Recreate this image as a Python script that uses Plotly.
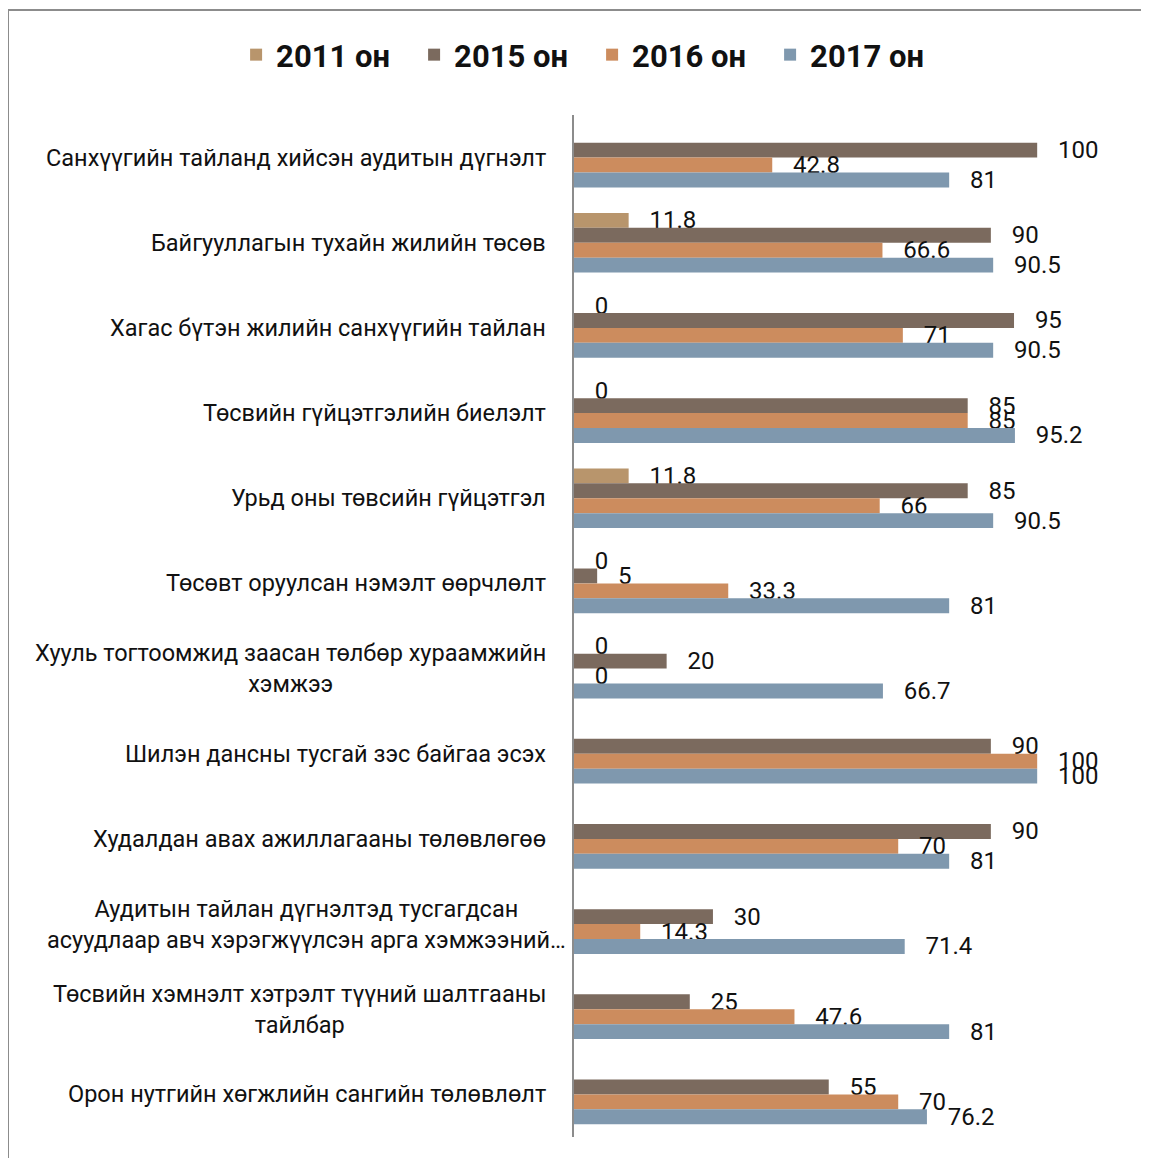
import plotly.graph_objects as go

categories = [
    'Санхүүгийн тайланд хийсэн аудитын дүгнэлт',
    'Байгууллагын тухайн жилийн төсөв',
    'Хагас бүтэн жилийн санхүүгийн тайлан',
    'Төсвийн гүйцэтгэлийн биелэлт',
    'Урьд оны төвсийн гүйцэтгэл',
    'Төсөвт оруулсан нэмэлт өөрчлөлт',
    'Хууль тогтоомжид заасан төлбөр хураамжийн<br>хэмжээ',
    'Шилэн дансны тусгай зэс байгаа эсэх',
    'Худалдан авах ажиллагааны төлөвлөгөө',
    'Аудитын тайлан дүгнэлтэд тусгагдсан<br>асуудлаар авч хэрэгжүүлсэн арга хэмжээний…',
    'Төсвийн хэмнэлт хэтрэлт түүний шалтгааны<br>тайлбар',
    'Орон нутгийн хөгжлийн сангийн төлөвлөлт',
]

series_names = ['2011 он', '2015 он', '2016 он', '2017 он']
vals_2011 = [None, 11.8, 0, 0, 11.8, 0, 0, None, None, None, None, None]
vals_2015 = [100, 90, 95, 85, 85, 5, 20, 90, 90, 30, 25, 55]
vals_2016 = [42.8, 66.6, 71, 85, 66, 33.3, 0, 100, 70, 14.3, 47.6, 70]
vals_2017 = [81, 90.5, 90.5, 95.2, 90.5, 81, 66.7, 100, 81, 71.4, 81, 76.2]

colors = ['#B8956C', '#7B6A5E', '#CC8C5E', '#7F98AE']
FONT = 'Roboto'

fig = go.Figure()
for name, vals, col in zip(series_names, [vals_2011, vals_2015, vals_2016, vals_2017], colors):
    fig.add_trace(go.Bar(
        y=categories,
        x=vals,
        name=name,
        orientation='h',
        marker=dict(color=col, line=dict(width=0)),
        text=[None if v is None else f'{v:g}' for v in vals],
        texttemplate='\u00a0\u00a0\u00a0%{text}',
        textposition='outside',
        constraintext='none',
        cliponaxis=False,
        textfont=dict(family=FONT, size=24, color='#111111'),
        hoverinfo='x+name',
    ))

# category labels as annotations so multi-line labels stay centred
for i, cat in enumerate(categories):
    fig.add_annotation(
        x=0, xref='paper', y=cat, yref='y',
        text=cat, showarrow=False, align='center',
        xanchor='right', yanchor='middle',
        xshift=-6 if i == 9 else -26,
        font=dict(family=FONT, size=23.5, color='#111111'),
    )

fig.update_layout(
    width=1141, height=1150,
    margin=dict(l=566, r=9, t=107, b=21, autoexpand=False),
    paper_bgcolor='white', plot_bgcolor='white',
    barmode='group', bargap=0.3, bargroupgap=0,
    showlegend=True,
    legend=dict(
        orientation='h', xref='paper', yref='paper',
        x=-0.597, y=1 + 60/1022, xanchor='left', yanchor='middle',
        font=dict(family=FONT, size=31, color='#111111', weight='bold'),
        entrywidth=133, entrywidthmode='pixels',
        bgcolor='rgba(0,0,0,0)',
        traceorder='normal',
    ),
    shapes=[
        dict(type='line', xref='paper', yref='paper', x0=-1, x1=1.2,
             y0=1 + 105/1022, y1=1 + 105/1022, line=dict(color='#8c8c8c', width=2)),
        dict(type='line', xref='paper', yref='paper', x0=-1, x1=-1,
             y0=1 + 105/1022, y1=-0.05, line=dict(color='#8c8c8c', width=2)),
    ],
)
fig.update_xaxes(range=[0, 122.2], showgrid=False, zeroline=False,
                 showticklabels=False, ticks='', showline=False)
fig.update_yaxes(autorange='reversed', showgrid=False, showticklabels=False,
                 ticks='', showline=True, linecolor='#8c8c8c', linewidth=2)

fig.write_html('out.html')
